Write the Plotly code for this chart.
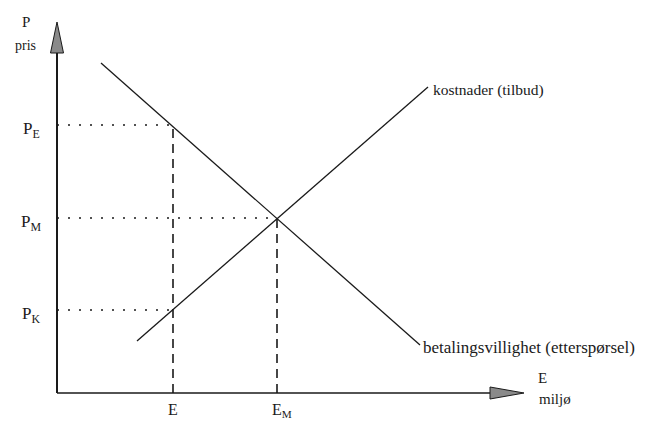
import plotly.graph_objects as go

# curves (x = miljø E, y = pris P)
demand_x = [4.4, 36.3]
demand_y = [33.0, 4.8]
supply_x = [8.0, 37.1]
supply_y = [5.2, 30.6]

# price levels and where their dotted guide meets a curve
price_levels = [26.8, 17.5, 8.3]
price_reach = [11.6, 22.0, 11.6]
price_labels = ["P<sub>E</sub>", "P<sub>M</sub>", "P<sub>K</sub>"]

# quantity levels and how high their dashed guide goes
quantity_levels = [11.6, 22.0]
quantity_reach = [26.8, 17.5]
quantity_labels = ["E", "E<sub>M</sub>"]

x_axis_end = 46.7
y_axis_end = 37.1

FONT = "Liberation Serif, Times New Roman, serif"
INK = "#1a1a1a"

fig = go.Figure()

# axes
fig.add_trace(go.Scatter(x=[0, 0], y=[0, y_axis_end - 2], mode="lines",
                         line=dict(color=INK, width=2), hoverinfo="skip"))
fig.add_trace(go.Scatter(x=[0, x_axis_end - 2], y=[0, 0], mode="lines",
                         line=dict(color=INK, width=1.5), hoverinfo="skip"))

# dotted price guides
for p, r in zip(price_levels, price_reach):
    fig.add_trace(go.Scatter(x=[0, r], y=[p, p], mode="lines",
                             line=dict(color=INK, width=1.6, dash="2px,9px"),
                             hoverinfo="skip"))

# dashed quantity guides
for q, r in zip(quantity_levels, quantity_reach):
    fig.add_trace(go.Scatter(x=[q, q], y=[0, r], mode="lines",
                             line=dict(color=INK, width=1.6, dash="9px,6px"),
                             hoverinfo="skip"))

# curves
fig.add_trace(go.Scatter(x=demand_x, y=demand_y, mode="lines",
                         line=dict(color=INK, width=1.3), hoverinfo="skip"))
fig.add_trace(go.Scatter(x=supply_x, y=supply_y, mode="lines",
                         line=dict(color=INK, width=1.3), hoverinfo="skip"))

# arrow heads
up = "M 0 {t} L -0.65 {b} L 0.65 {b} Z".format(t=y_axis_end, b=y_axis_end - 3.1)
right = "M {t} 0 L {b} 0.6 L {b} -0.6 Z".format(t=x_axis_end, b=x_axis_end - 3.4)
for path in (up, right):
    fig.add_shape(type="path", path=path, xref="x", yref="y",
                  fillcolor="#8a8a8a", line=dict(color=INK, width=1))

annotations = []


def label(x, y, text, size=13, xanchor="center", yanchor="middle"):
    annotations.append(dict(x=x, y=y, text=text, showarrow=False,
                            xanchor=xanchor, yanchor=yanchor,
                            font=dict(family=FONT, size=size, color=INK)))


label(-3.1, 37.1, "P", size=15)
label(-3.2, 34.8, "pris", size=14)
for p, t in zip(price_levels, price_labels):
    label(-2.6, p - 0.5, t, size=17)
for q, t in zip(quantity_levels, quantity_labels):
    label(q + (0.5 if "sub" in t else 0), -0.6, t, size=16, yanchor="top")
label(37.4, 30.3, "kostnader (tilbud)", size=15.5, xanchor="left")
label(36.4, 4.6, "betalingsvillighet (etterspørsel)", size=17, xanchor="left")
label(47.9, 1.5, "E", size=15, xanchor="left")
label(48.0, -0.6, "miljø", size=15, xanchor="left")

fig.update_layout(
    width=660, height=428,
    margin=dict(l=0, r=0, t=0, b=0),
    paper_bgcolor="white", plot_bgcolor="white",
    showlegend=False,
    xaxis=dict(range=[-5.7, 60.3], visible=False),
    yaxis=dict(range=[-3.5, 39.3], visible=False),
    annotations=annotations,
)

fig.write_html("out.html", config={"displayModeBar": False},
               post_script="document.body.style.margin='0';")
